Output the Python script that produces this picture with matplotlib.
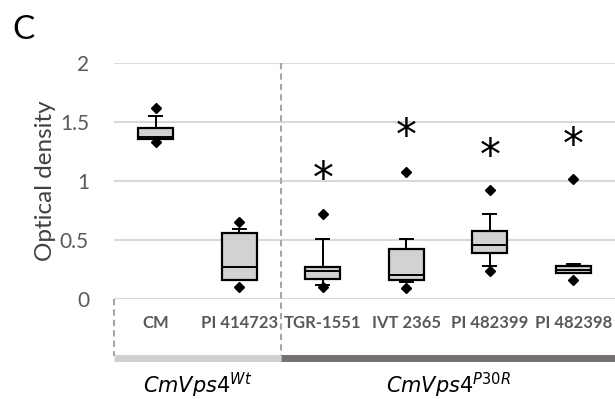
import matplotlib.pyplot as plt
from matplotlib.lines import Line2D

# box values
labels = ['CM', 'PI 414723', 'TGR-1551', 'IVT 2365', 'PI 482399', 'PI 482398']
whislo = [1.36, 0.16, 0.12, 0.14, 0.28, 0.22]
q1 = [1.36, 0.16, 0.17, 0.16, 0.39, 0.22]
med = [1.37, 0.27, 0.24, 0.20, 0.46, 0.25]
q3 = [1.45, 0.56, 0.27, 0.42, 0.58, 0.28]
whishi = [1.55, 0.59, 0.51, 0.51, 0.72, 0.30]
fliers = [[1.62, 1.33], [0.65, 0.10], [0.72, 0.10], [1.08, 0.09], [0.92, 0.24], [1.02, 0.16]]
star_y = [None, None, 1.01, 1.37, 1.20, 1.30]

plt.rcParams['font.family'] = ['Lato', 'DejaVu Sans']

fig = plt.figure(figsize=(6.15, 3.99), dpi=100)
ax = fig.add_axes([114 / 615, 100 / 399, 501 / 615, 236 / 399])

stats = []
for i in range(len(labels)):
    stats.append({'whislo': whislo[i], 'q1': q1[i], 'med': med[i], 'q3': q3[i],
                  'whishi': whishi[i], 'fliers': fliers[i]})

ax.bxp(stats, positions=range(len(labels)), widths=0.42, patch_artist=True,
       boxprops=dict(facecolor='#d2d2d2', edgecolor='black', linewidth=1.6),
       medianprops=dict(color='black', linewidth=1.4),
       whiskerprops=dict(color='black', linewidth=1.4),
       capprops=dict(color='black', linewidth=1.4),
       capwidths=0.15,
       flierprops=dict(marker='D', markerfacecolor='black', markeredgecolor='black',
                       markersize=5.5),
       zorder=3)

for i, y in enumerate(star_y):
    if y is not None:
        ax.text(i, y, '*', ha='center', va='center', fontsize=30, color='black',
                family='DejaVu Sans')

ax.set_xlim(-0.5, 5.5)
ax.set_ylim(0, 2)
ax.set_yticks([0, 0.5, 1, 1.5, 2])
ax.set_yticklabels(['0', '0.5', '1', '1.5', '2'])
ax.yaxis.grid(True, color='#d9d9d9', linewidth=1.5)
ax.set_axisbelow(True)
ax.tick_params(axis='y', length=0, labelsize=15, labelcolor='#595959', pad=18)
ax.set_xticks([])
for s in ax.spines.values():
    s.set_visible(False)
ax.set_ylabel('Optical density', fontsize=17.5, color='#404040', labelpad=3)

# category labels under the axis
for i, lab in enumerate(labels):
    ax.text(i, -0.102, lab, transform=ax.get_xaxis_transform(), ha='center', va='center',
            fontsize=12, fontweight='bold', color='#595959')

# dashed separators
tr = ax.get_xaxis_transform()
ax.add_line(Line2D([-0.5, -0.5], [0, -0.24], transform=tr, clip_on=False,
                   color='#a6a6a6', linestyle=(0, (3, 2)), linewidth=1.5))
ax.add_line(Line2D([1.5, 1.5], [1.0, -0.24], transform=tr, clip_on=False,
                   color='#a6a6a6', linestyle=(0, (3, 2)), linewidth=1.5))

# group bars
ax.add_line(Line2D([-0.5, 1.5], [-0.25, -0.25], transform=tr, clip_on=False,
                   color='#d0d0d0', linewidth=5, solid_capstyle='butt'))
ax.add_line(Line2D([1.5, 5.5], [-0.25, -0.25], transform=tr, clip_on=False,
                   color='#767171', linewidth=5, solid_capstyle='butt'))

ax.text(0.5, -0.365, r'$\mathit{CmVps4}^{\mathit{Wt}}$', transform=tr, ha='center',
        va='center', fontsize=15, color='black')
ax.text(3.5, -0.365, r'$\mathit{CmVps4}^{\mathit{P30R}}$', transform=tr, ha='center',
        va='center', fontsize=15, color='black')

fig.text(12 / 615, 1 - 30 / 399, 'C', fontsize=24, ha='left', va='center')

fig.savefig('out.png', dpi=100)
